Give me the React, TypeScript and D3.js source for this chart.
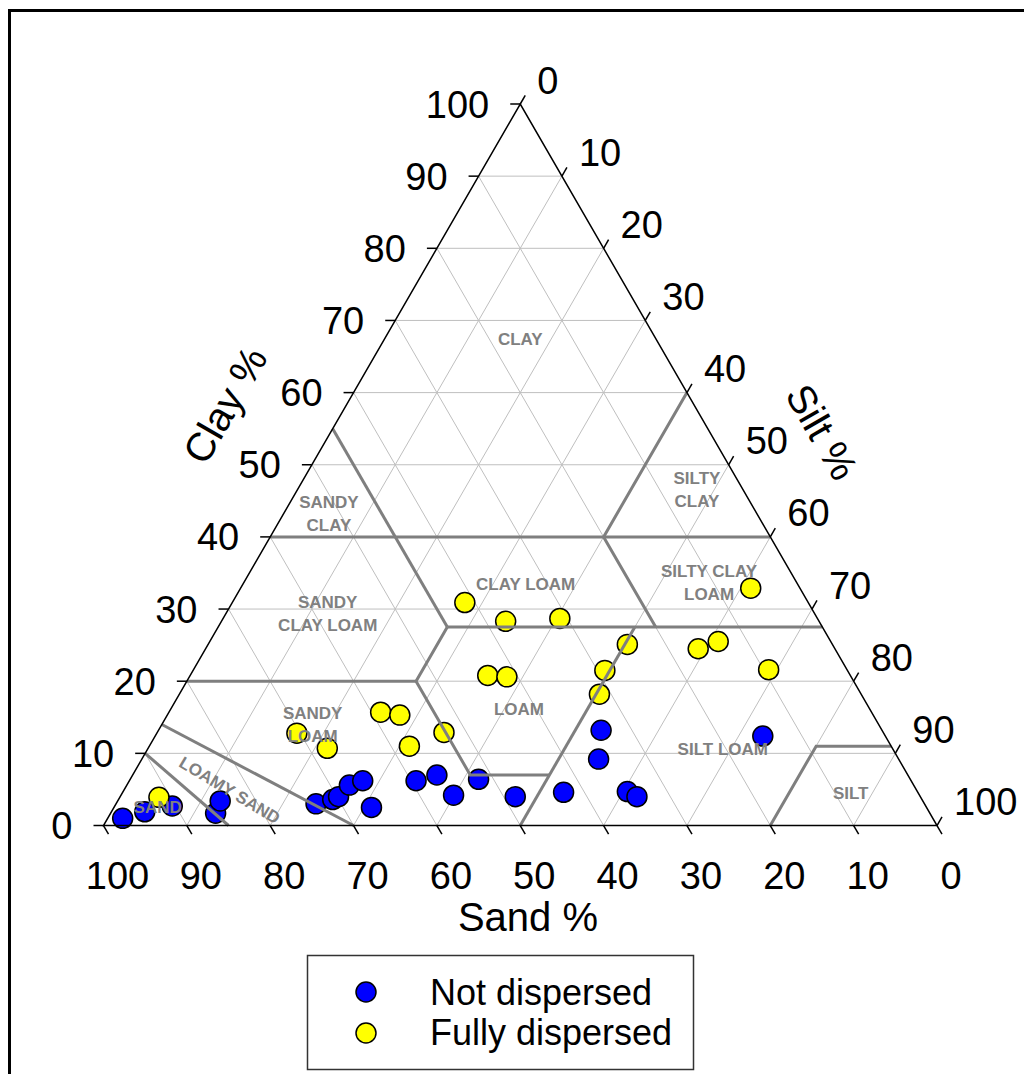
import React, { useEffect, useRef } from 'react';
import * as d3 from 'd3';

// sample composition (sand %, silt %, clay %)
const notDispSand = [97.2, 94.1, 90.4, 85.7, 84.3, 73.0, 70.7, 69.8, 67.7, 65.8, 66.6, 59.4, 56.5, 55.9, 51.8, 48.6, 42.5, 33.7, 36.0, 34.8, 34.0, 14.7];
const notDispSilt = [1.8, 4.0, 6.9, 12.6, 12.3, 24.0, 25.7, 26.2, 26.7, 28.0, 30.9, 34.4, 36.5, 39.9, 41.8, 47.4, 52.9, 53.1, 54.8, 60.5, 62.0, 72.9];
const notDispClay = [1.0, 1.9, 2.7, 1.7, 3.4, 3.0, 3.6, 4.0, 5.6, 6.2, 2.5, 6.2, 7.0, 4.2, 6.4, 4.0, 4.6, 13.2, 9.2, 4.7, 4.0, 12.4];

const fullDispSand = [91.4, 70.4, 67.8, 58.9, 56.8, 57.8, 52.7, 41.2, 37.6, 30.9, 43.5, 41.3, 24.6, 29.1, 31.4, 16.4, 13.5, 5.9, 9.4];
const fullDispSilt = [4.7, 16.8, 21.5, 25.4, 27.9, 31.2, 34.4, 27.9, 34.1, 40.4, 35.7, 38.1, 50.3, 49.4, 50.4, 59.1, 61.0, 61.2, 69.0];
const fullDispClay = [3.9, 12.8, 10.7, 15.7, 15.3, 11.0, 12.9, 30.9, 28.3, 28.7, 20.8, 20.6, 25.1, 21.5, 18.2, 24.5, 25.5, 32.9, 21.6];

const ticks = [0, 10, 20, 30, 40, 50, 60, 70, 80, 90, 100];

// texture class boundaries, each a polyline of [sand, silt, clay]
const boundaries = [
  [[45, 0, 55], [45, 27.5, 27.5]],
  [[60, 0, 40], [0, 60, 40]],
  [[0, 40, 60], [20, 40, 40], [20, 52.5, 27.5]],
  [[45, 27.5, 27.5], [0, 72.5, 27.5]],
  [[45, 27.5, 27.5], [52.5, 27.5, 20], [52.5, 40.5, 7], [43, 50, 7]],
  [[80, 0, 20], [52.5, 27.5, 20]],
  [[50, 50, 0], [22.5, 50, 27.5]],
  [[86, 0, 14], [70, 30, 0]],
  [[90, 0, 10], [85, 15, 0]],
  [[20, 80, 0], [9, 80, 11], [0, 89, 11]]
];

// class names: lines of text, centred on a composition
const classNames = ['CLAY', 'SILTY\nCLAY', 'SANDY\nCLAY', 'CLAY LOAM', 'SILTY CLAY\nLOAM', 'SANDY\nCLAY LOAM', 'SANDY\nLOAM', 'LOAM', 'SILT LOAM', 'SILT', 'SAND'];
const classSand = [16.3, 5.5, 51.3, 32.6, 10.5, 58.4, 67.9, 42.1, 20.4, 8.1, 92.2];
const classClay = [67.4, 46.6, 43.3, 33.5, 33.7, 29.4, 14.0, 16.1, 10.6, 4.5, 2.6];

const legendNames = ['Not dispersed', 'Fully dispersed'];
const colors = ['#0000ff', '#ffff00'];

export default function App() {
  const ref = useRef<SVGSVGElement>(null);

  useEffect(() => {
    const svg = d3.select(ref.current);
    svg.selectAll('*').remove();

    const left = 103.5, right = 937, bottom = 825.5, top = 104;
    // bottom axis (sand) and vertical (clay) scales
    const sandX = d3.scaleLinear().domain([100, 0]).range([left, right]);
    const clayY = d3.scaleLinear().domain([0, 100]).range([bottom, top]);
    const px = (sand: number, clay: number) => [sandX(sand + clay / 2), clayY(clay)];
    const font = 'Arial, "Liberation Sans", sans-serif';

    // outer frame (cut at right and bottom)
    svg.append('path')
      .attr('d', 'M9.5,1100 L9.5,10.5 L1100,10.5')
      .attr('fill', 'none').attr('stroke', '#000').attr('stroke-width', 3);

    const g = svg.append('g');

    // grid
    const grid = g.append('g').attr('stroke', '#bfbfbf').attr('stroke-width', 1);
    ticks.slice(1, -1).forEach(k => {
      const lines = [
        [px(100 - k, k), px(0, k)],
        [px(k, 0), px(k, 100 - k)],
        [px(100 - k, 0), px(0, 100 - k)]
      ];
      lines.forEach(([a, b]) => {
        grid.append('line').attr('x1', a[0]).attr('y1', a[1]).attr('x2', b[0]).attr('y2', b[1]);
      });
    });

    // points
    const series = [
      { sand: notDispSand, clay: notDispClay, color: colors[0] },
      { sand: fullDispSand, clay: fullDispClay, color: colors[1] }
    ];
    series.forEach(s => {
      g.append('g').selectAll('circle')
        .data(s.sand.map((v, i) => px(v, s.clay[i])))
        .enter().append('circle')
        .attr('cx', d => d[0]).attr('cy', d => d[1]).attr('r', 10)
        .attr('fill', s.color).attr('stroke', '#000').attr('stroke-width', 1.5);
    });

    // class boundaries
    const line = d3.line<number[]>().x(d => px(d[0], d[2])[0]).y(d => px(d[0], d[2])[1]);
    g.append('g').selectAll('path').data(boundaries).enter().append('path')
      .attr('d', d => line(d))
      .attr('fill', 'none').attr('stroke', '#7f7f7f').attr('stroke-width', 3);

    // class labels
    const labels = g.append('g')
      .attr('font-family', font).attr('font-weight', 'bold').attr('font-size', 17)
      .attr('fill', '#808080').attr('text-anchor', 'middle');
    classNames.forEach((name, i) => {
      const [x, y] = px(classSand[i], classClay[i]);
      const rows = name.split('\n');
      rows.forEach((r, j) => {
        labels.append('text')
          .attr('x', x).attr('y', y + (j - (rows.length - 1) / 2) * 23 + 6)
          .text(r);
      });
    });
    const [lsx, lsy] = px(82.4, 4.9);
    labels.append('text')
      .attr('transform', `translate(${lsx},${lsy}) rotate(31)`)
      .attr('y', 6)
      .text('LOAMY SAND');

    // triangle outline
    const [tx, ty] = px(0, 100);
    g.append('path')
      .attr('d', `M${left},${bottom} L${right},${bottom} L${tx},${ty} Z`)
      .attr('fill', 'none').attr('stroke', '#000').attr('stroke-width', 1.5);

    // ticks and tick labels
    const axes = g.append('g').attr('font-family', font).attr('font-size', 38).attr('fill', '#000');
    const tickG = g.append('g').attr('stroke', '#000').attr('stroke-width', 1.5);
    const tl = 10;
    ticks.forEach(k => {
      // clay, left edge
      const [cx, cy] = px(100 - k, k);
      tickG.append('line').attr('x1', cx).attr('y1', cy).attr('x2', cx - tl).attr('y2', cy);
      axes.append('text').attr('x', cx - 31).attr('y', cy + 13.5).attr('text-anchor', 'end').text(k);
      // sand, bottom edge
      const [sx, sy] = px(k, 0);
      tickG.append('line').attr('x1', sx).attr('y1', sy).attr('x2', sx + tl * 0.5).attr('y2', sy + tl * 0.866);
      axes.append('text').attr('x', sx + 14).attr('y', sy + 63).attr('text-anchor', 'middle').text(k);
      // silt, right edge
      const [rx, ry] = px(0, 100 - k);
      tickG.append('line').attr('x1', rx).attr('y1', ry).attr('x2', rx + tl * 0.5).attr('y2', ry - tl * 0.866);
      axes.append('text').attr('x', rx + 17).attr('y', ry - 24 + 13.5).attr('text-anchor', 'start').text(k);
    });

    // axis titles
    const titles = g.append('g').attr('font-family', font).attr('font-size', 40).attr('text-anchor', 'middle');
    titles.append('text').attr('x', 528).attr('y', 931).text('Sand %');
    titles.append('text').attr('transform', 'translate(225,405) rotate(-60)').attr('y', 14).text('Clay %');
    titles.append('text').attr('transform', 'translate(822,432) rotate(60)').attr('y', 14).text('Silt %');

    // legend
    const legend = svg.append('g');
    legend.append('rect')
      .attr('x', 307.5).attr('y', 955.5).attr('width', 386).attr('height', 114)
      .attr('fill', '#fff').attr('stroke', '#333').attr('stroke-width', 1.5);
    legendNames.forEach((name, i) => {
      legend.append('circle')
        .attr('cx', 366).attr('cy', 992 + i * 41).attr('r', 10)
        .attr('fill', colors[i]).attr('stroke', '#000').attr('stroke-width', 1.5);
      legend.append('text')
        .attr('x', 430).attr('y', 1005 + i * 40)
        .attr('font-family', font).attr('font-size', 36)
        .text(name);
    });
  }, []);

  return (
    <div style={{ position: 'absolute', left: 0, top: 0 }}>
      <svg ref={ref} width={1024} height={1074} style={{ display: 'block', background: '#fff' }} />
    </div>
  );
}
